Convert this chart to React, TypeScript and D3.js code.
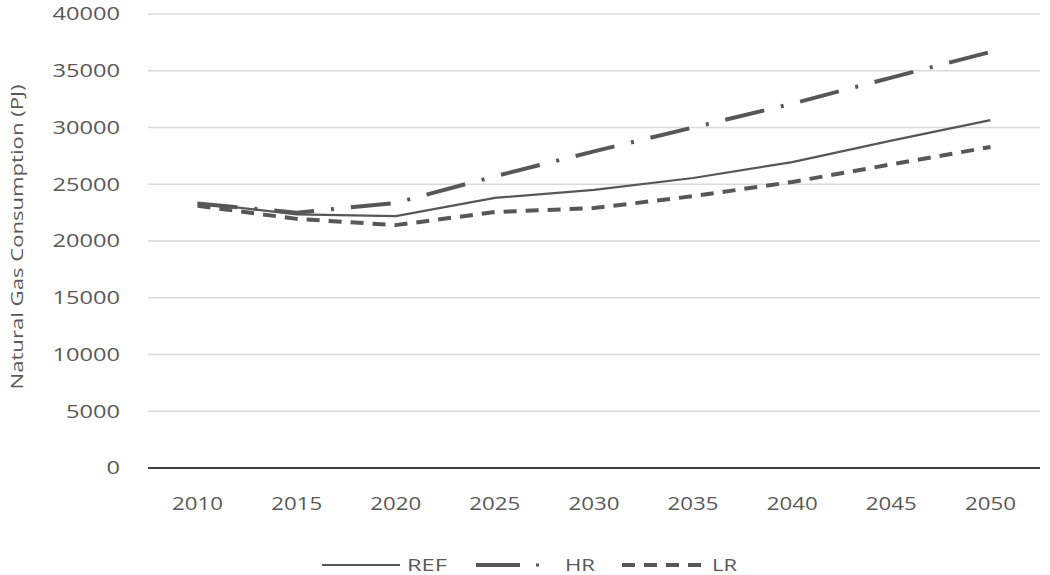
import React from "react";
import * as d3 from "d3";

const years = ["2010", "2015", "2020", "2025", "2030", "2035", "2040", "2045", "2050"];
const refValues = [23350, 22350, 22200, 23800, 24500, 25550, 26950, 28850, 30650];
const hrValues = [23300, 22500, 23350, 25700, 27900, 30000, 32100, 34400, 36650];
const lrValues = [23100, 21950, 21400, 22550, 22900, 23950, 25200, 26750, 28280];
const yTicks = [0, 5000, 10000, 15000, 20000, 25000, 30000, 35000, 40000];

const W = 1050, H = 575;
const margin = { left: 148, right: 10, top: 14, bottom: 107 };

export default function App() {
  const x = d3.scaleBand<string>().domain(years).range([margin.left, W - margin.right]);
  const y = d3.scaleLinear().domain([0, 40000]).range([H - margin.bottom, margin.top]);
  const cx = (d: string) => (x(d) as number) + x.bandwidth() / 2;
  const line = d3
    .line<number>()
    .x((_, i) => cx(years[i]))
    .y((d) => y(d))
    .curve(d3.curveLinear);
  const font = "'Open Sans', 'Liberation Sans', sans-serif";
  const textColor = "#595959";
  const lineColor = "#575757";
  const series = [
    { name: "REF", values: refValues, width: 2.2, dash: "none" },
    { name: "HR", values: hrValues, width: 4, dash: "40 17 3 17" },
    { name: "LR", values: lrValues, width: 4, dash: "13 9" },
  ];
  const legendY = 565;
  return (
    <svg width={W} height={H} style={{ position: "absolute", left: 0, top: 0, background: "#fff" }}>
      {yTicks.map((t) => (
        <g key={t}>
          {t !== 0 && (
            <line x1={margin.left} x2={W - margin.right} y1={y(t)} y2={y(t)} stroke="#d9d9d9" strokeWidth={1.5} />
          )}
          <text
            x={120}
            y={y(t)}
            dy="0.35em"
            textAnchor="end"
            fontFamily={font}
            fontSize={18}
            fill={textColor}
            textLength={String(t).length * 13.5}
            lengthAdjust="spacingAndGlyphs"
          >
            {t}
          </text>
        </g>
      ))}
      <line x1={margin.left} x2={W - margin.right} y1={y(0)} y2={y(0)} stroke="#404040" strokeWidth={2} />
      {years.map((yr) => (
        <text
          key={yr}
          x={cx(yr)}
          y={503}
          dy="0.35em"
          textAnchor="middle"
          fontFamily={font}
          fontSize={19}
          fill={textColor}
          textLength={51}
          lengthAdjust="spacingAndGlyphs"
        >
          {yr}
        </text>
      ))}
      <text
        transform={`translate(17, 237) rotate(-90)`}
        textAnchor="middle"
        dy="0.35em"
        fontFamily={font}
        fontSize={16}
        fill={textColor}
        textLength={305}
        lengthAdjust="spacingAndGlyphs"
      >
        Natural Gas Consumption (PJ)
      </text>
      {series.map((s) => (
        <path
          key={s.name}
          d={line(s.values) as string}
          fill="none"
          stroke={lineColor}
          strokeWidth={s.width}
          strokeDasharray={s.dash}
        />
      ))}
      {/* legend */}
      <line x1={322} x2={400} y1={legendY} y2={legendY} stroke={lineColor} strokeWidth={2.2} />
      <text x={407} y={legendY} dy="0.35em" fontFamily={font} fontSize={17} fill={textColor} textLength={40} lengthAdjust="spacingAndGlyphs">REF</text>
      <line x1={476} x2={520} y1={legendY} y2={legendY} stroke={lineColor} strokeWidth={4} />
      <rect x={536} y={legendY - 1.5} width={3} height={3} fill={lineColor} />
      <text x={565} y={legendY} dy="0.35em" fontFamily={font} fontSize={17} fill={textColor} textLength={30} lengthAdjust="spacingAndGlyphs">HR</text>
      <line x1={622} x2={702} y1={legendY} y2={legendY} stroke={lineColor} strokeWidth={4} strokeDasharray="13 9" />
      <text x={712} y={legendY} dy="0.35em" fontFamily={font} fontSize={17} fill={textColor} textLength={25} lengthAdjust="spacingAndGlyphs">LR</text>
    </svg>
  );
}
